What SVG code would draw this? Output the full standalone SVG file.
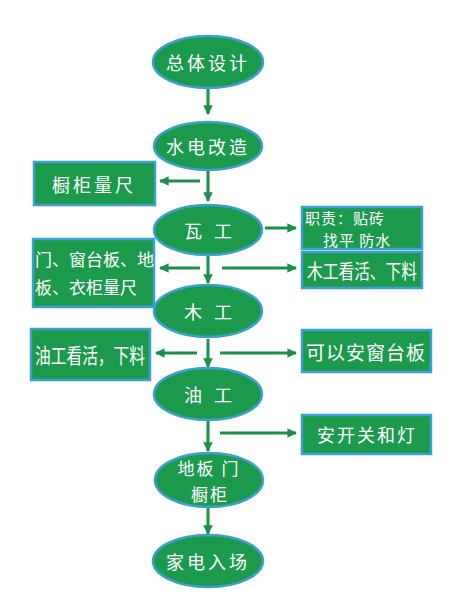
<svg xmlns="http://www.w3.org/2000/svg" width="462" height="599" viewBox="0 0 462 599">
<defs>
<marker id="ah" viewBox="0 0 10 10" refX="9" refY="5" markerWidth="3.2" markerHeight="3.2" orient="auto-start-reverse" markerUnits="strokeWidth">
<path d="M0,0 L10,5 L0,10 z" fill="#1e8f48"/>
</marker>
</defs>
<style>
.el{fill:#1b9a4c;stroke:#3d9fd0;stroke-width:2.5}
.bx{fill:#1b9a4c;stroke:#3d9fd0;stroke-width:2.5}
.t{fill:#ffffff;font-family:"Noto Sans CJK SC","Noto Sans",sans-serif;font-size:18px;text-anchor:middle;dominant-baseline:central}
.tl{fill:#ffffff;font-family:"Noto Sans CJK SC","Noto Sans",sans-serif;font-size:17px;dominant-baseline:central}
.c{stroke:#1e8f48;stroke-width:3;fill:none;marker-end:url(#ah)}
</style>
<rect width="462" height="599" fill="#ffffff"/>
<g id="connectors">
<line class="c" x1="208" y1="89" x2="208" y2="114"/>
<line class="c" x1="208" y1="171" x2="208" y2="201"/>
<line class="c" x1="200" y1="181" x2="160" y2="181"/>
<line class="c" x1="265" y1="228" x2="296" y2="228"/>
<line class="c" x1="208" y1="256" x2="208" y2="283"/>
<line class="c" x1="200" y1="268" x2="160" y2="268"/>
<line class="c" x1="222" y1="268" x2="296" y2="268"/>
<line class="c" x1="208" y1="339" x2="208" y2="367"/>
<line class="c" x1="197" y1="353" x2="156" y2="353"/>
<line class="c" x1="220" y1="353" x2="296" y2="353"/>
<line class="c" x1="208" y1="421" x2="208" y2="451"/>
<line class="c" x1="220" y1="433" x2="296" y2="433"/>
<line class="c" x1="208" y1="508" x2="208" y2="534"/>
</g>
<g id="n1"><ellipse class="el" cx="208" cy="62" rx="55" ry="26"/><text class="t" x="208" y="62" letter-spacing="3">总体设计</text></g>
<g id="n2"><ellipse class="el" cx="208" cy="146" rx="54" ry="24"/><text class="t" x="208" y="146" letter-spacing="3">水电改造</text></g>
<g id="n3"><ellipse class="el" cx="208" cy="230" rx="54" ry="25"/><text class="t" x="208" y="230" xml:space="preserve">瓦   工</text></g>
<g id="n4"><ellipse class="el" cx="208" cy="311" rx="54" ry="26"/><text class="t" x="208" y="311" xml:space="preserve">木   工</text></g>
<g id="n5"><ellipse class="el" cx="208" cy="394" rx="54" ry="26"/><text class="t" x="208" y="394" xml:space="preserve">油   工</text></g>
<g id="n6"><ellipse class="el" cx="209" cy="480" rx="54" ry="27"/><text class="t" x="209" y="467" letter-spacing="2" style="font-size:17px" xml:space="preserve">地板 门</text><text class="t" x="210" y="493" letter-spacing="2" style="font-size:17px">橱柜</text></g>
<g id="n7"><ellipse class="el" cx="208" cy="561" rx="55" ry="26"/><text class="t" x="208" y="561" letter-spacing="3">家电入场</text></g>
<g id="b1"><rect class="bx" x="34" y="162" width="121" height="43"/><text class="t" x="94" y="184" letter-spacing="3">橱柜量尺</text></g>
<g id="b2"><rect class="bx" x="33" y="239" width="121" height="68"/><text class="tl" x="35" y="258">门、窗台板、地</text><text class="tl" x="35" y="286">板、衣柜量尺</text></g>
<g id="b3"><rect class="bx" x="302" y="207" width="120" height="42"/><text class="tl" x="305" y="217" style="font-size:15px" letter-spacing="1">职责：贴砖</text><text class="tl" x="323" y="239" style="font-size:15px" letter-spacing="1" xml:space="preserve">找平 防水</text></g>
<g id="b4"><rect class="bx" x="302" y="252" width="120" height="36"/><text class="t" x="362" y="270" style="font-size:20px" textLength="110" lengthAdjust="spacingAndGlyphs">木工看活、下料</text></g>
<g id="b5"><rect class="bx" x="31" y="329" width="119" height="51"/><text class="t" x="90" y="354" style="font-size:21px" textLength="110" lengthAdjust="spacingAndGlyphs">油工看活，下料</text></g>
<g id="b6"><rect class="bx" x="302" y="330" width="129" height="42"/><text class="t" x="366" y="351" style="font-size:19px" letter-spacing="1">可以安窗台板</text></g>
<g id="b7"><rect class="bx" x="302" y="415" width="129" height="39"/><text class="t" x="367" y="434" letter-spacing="2">安开关和灯</text></g>
</svg>
